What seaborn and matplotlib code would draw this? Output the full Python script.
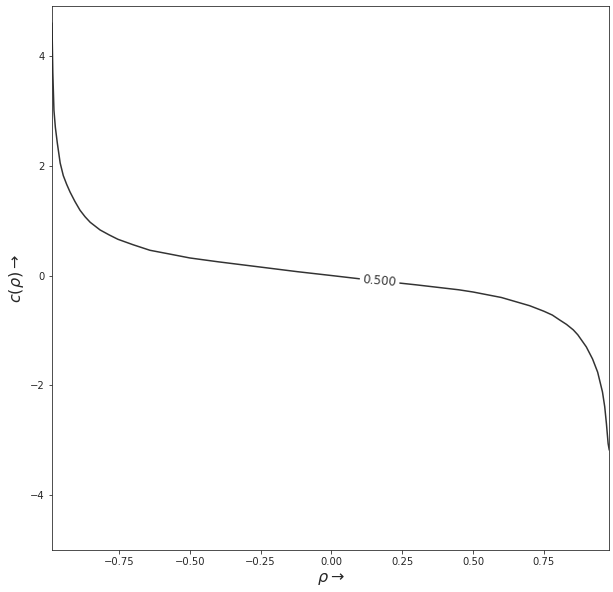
import numpy as np
import pandas as pd
import seaborn as sns
import matplotlib
matplotlib.use("Agg")
import matplotlib.pyplot as plt

# points
rho = [-0.987, -0.984, -0.980, -0.975, -0.968, -0.958, -0.947, -0.935, -0.923,
       -0.906, -0.888, -0.870, -0.852, -0.817, -0.785, -0.754, -0.700, -0.641,
       -0.570, -0.500, -0.400, -0.252, -0.120, 0.0, 0.100, 0.300, 0.450, 0.500,
       0.600, 0.700, 0.750, 0.780, 0.806, 0.830, 0.854, 0.870, 0.900, 0.922,
       0.940, 0.957, 0.965, 0.971, 0.977, 0.981]
c_rho = [4.60, 3.70, 3.01, 2.70, 2.41, 2.05, 1.82, 1.66, 1.52,
         1.35, 1.19, 1.07, 0.97, 0.83, 0.74, 0.66, 0.56, 0.46,
         0.39, 0.32, 0.25, 0.155, 0.07, 0.0, -0.06, -0.17, -0.26, -0.30,
         -0.40, -0.55, -0.65, -0.72, -0.81, -0.89, -0.99, -1.08, -1.30, -1.52,
         -1.76, -2.12, -2.39, -2.70, -3.06, -3.18]
level_label = "0.500"
x_ticks = [-0.75, -0.50, -0.25, 0.00, 0.25, 0.50, 0.75]
y_ticks = [-4, -2, 0, 2, 4]

df = pd.DataFrame({"rho": rho, "c": c_rho})

sns.set_style("ticks")
fig = plt.figure(figsize=(613 / 72, 592 / 72), dpi=72)
ax = fig.add_axes([0.0843, 0.0709, 0.9096, 0.919])

sns.lineplot(data=df, x="rho", y="c", ax=ax, color="#333333", linewidth=1.5,
             estimator=None)

# inline contour label
ax.text(0.17, -0.10, level_label, fontsize=12, color="#3a3a3a", rotation=-5,
        ha="center", va="center",
        bbox=dict(facecolor="white", edgecolor="none", pad=3))

ax.set_xlim(-0.988, 0.981)
ax.set_ylim(-5.0, 4.91)
ax.set_xticks(x_ticks)
ax.set_yticks(y_ticks)
ax.tick_params(labelsize=10)
ax.set_xlabel(r"$\rho \rightarrow$", fontsize=16)
ax.set_ylabel(r"$c(\rho) \rightarrow$", fontsize=16)

fig.savefig("out.png", dpi=72)
